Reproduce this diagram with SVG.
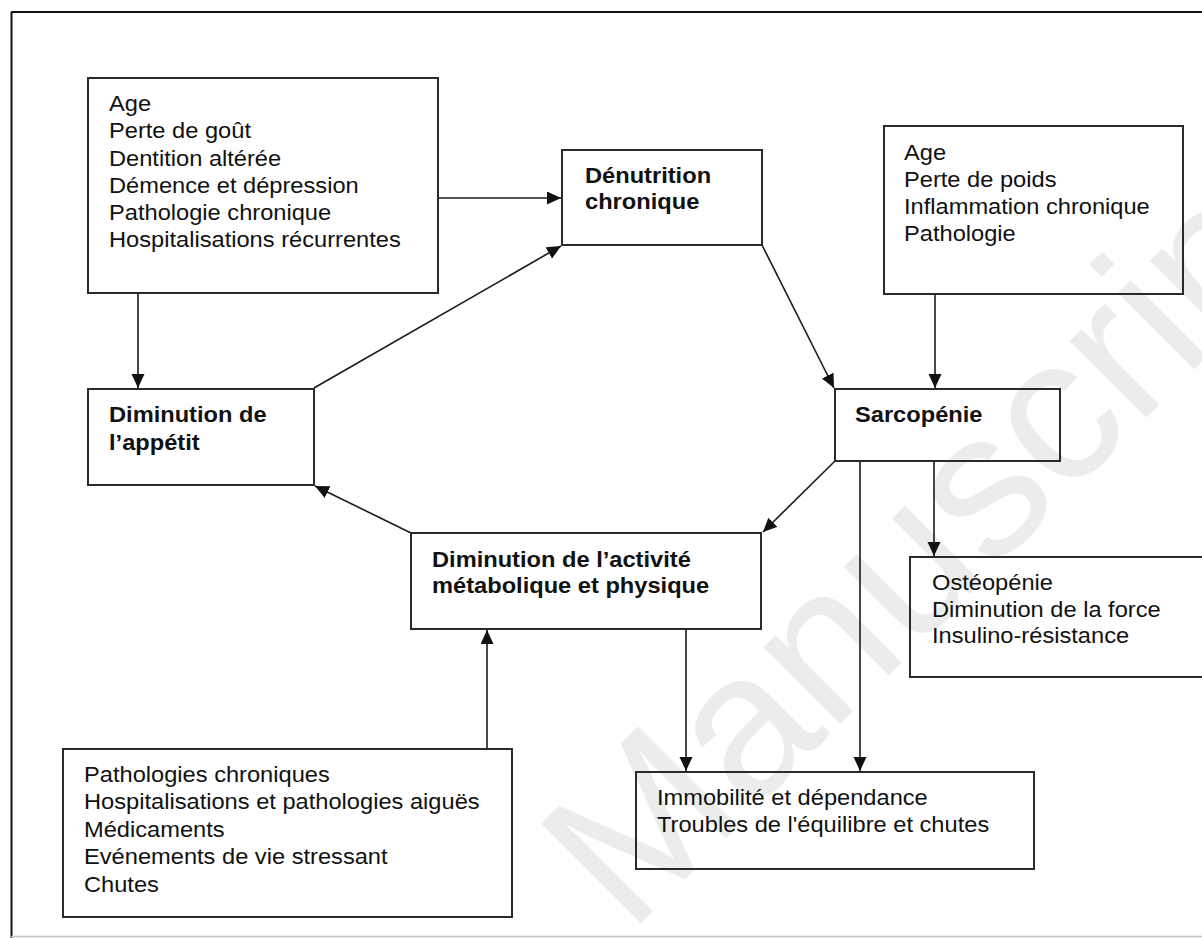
<svg xmlns="http://www.w3.org/2000/svg" width="1202" height="938" viewBox="0 0 1202 938">
<style>
.box{fill:none;stroke:#2a2a2a;stroke-width:2}
.t{font-family:"Liberation Sans",Arial,sans-serif;font-size:21.5px;fill:#111}
.b{font-weight:bold}
.c{stroke:#1a1a1a;stroke-width:1.6;fill:none}
.wm{font-family:"Liberation Sans",Arial,sans-serif;font-size:205px;fill:#ececec}
</style>
<defs>
<marker id="ah" markerUnits="userSpaceOnUse" markerWidth="15" markerHeight="14" refX="14" refY="6.5" orient="auto">
<path d="M0,0 L14,6.5 L0,13 z" fill="#111"/>
</marker>
</defs>
<rect width="1202" height="938" fill="#fff"/>
<g id="watermark">
<text class="wm" transform="translate(629,935) rotate(-45)">Manuscript</text>
</g>
<g id="frame">
<line x1="11.5" y1="12" x2="11.5" y2="938" stroke="#111" stroke-width="2"/>
<line x1="11" y1="12" x2="1202" y2="12" stroke="#111" stroke-width="2"/>
<line x1="11" y1="936.5" x2="1202" y2="936.5" stroke="#c4c4c4" stroke-width="1.5"/>
</g>
<g id="connectors">
<line class="c" x1="438" y1="198" x2="561" y2="198" marker-end="url(#ah)"/>
<line class="c" x1="314" y1="388" x2="561" y2="246" marker-end="url(#ah)"/>
<line class="c" x1="138" y1="293" x2="138" y2="388" marker-end="url(#ah)"/>
<line class="c" x1="762" y1="245" x2="834" y2="388" marker-end="url(#ah)"/>
<line class="c" x1="935" y1="294" x2="935" y2="388" marker-end="url(#ah)"/>
<line class="c" x1="835" y1="461" x2="763" y2="532" marker-end="url(#ah)"/>
<line class="c" x1="411" y1="533" x2="315" y2="486" marker-end="url(#ah)"/>
<line class="c" x1="934" y1="461" x2="934" y2="556" marker-end="url(#ah)"/>
<line class="c" x1="686" y1="629" x2="686" y2="771" marker-end="url(#ah)"/>
<line class="c" x1="860" y1="461" x2="860" y2="771" marker-end="url(#ah)"/>
<line class="c" x1="487" y1="749" x2="487" y2="630" marker-end="url(#ah)"/>
</g>
<g id="facteurs1">
<rect class="box" x="88" y="78" width="350" height="215"/>
<text class="t" transform="translate(109,111) scale(1.1,1)"><tspan x="0" y="0">Age</tspan><tspan x="0" y="27.3">Perte de goût</tspan><tspan x="0" y="54.6">Dentition altérée</tspan><tspan x="0" y="81.9">Démence et dépression</tspan><tspan x="0" y="109.2">Pathologie chronique</tspan><tspan x="0" y="136.5">Hospitalisations récurrentes</tspan></text>
</g>
<g id="denutrition">
<rect class="box" x="562" y="150" width="200" height="95"/>
<text class="t b" transform="translate(585,183) scale(1.1,1)"><tspan x="0" y="0">Dénutrition</tspan><tspan x="0" y="26">chronique</tspan></text>
</g>
<g id="facteurs2">
<rect class="box" x="884" y="126" width="299" height="168"/>
<text class="t" transform="translate(904,159.5) scale(1.1,1)"><tspan x="0" y="0">Age</tspan><tspan x="0" y="27.3">Perte de poids</tspan><tspan x="0" y="54.6">Inflammation chronique</tspan><tspan x="0" y="81.9">Pathologie</tspan></text>
</g>
<g id="appetit">
<rect class="box" x="88" y="389" width="226" height="96"/>
<text class="t b" transform="translate(109,422) scale(1.1,1)"><tspan x="0" y="0">Diminution de</tspan><tspan x="0" y="28">l’appétit</tspan></text>
</g>
<g id="sarcopenie">
<rect class="box" x="835" y="389" width="225" height="72"/>
<text class="t b" transform="translate(855,422) scale(1.1,1)">Sarcopénie</text>
</g>
<g id="activite">
<rect class="box" x="411" y="533" width="350" height="96"/>
<text class="t b" transform="translate(432,566.5) scale(1.1,1)"><tspan x="0" y="0">Diminution de l’activité</tspan><tspan x="0" y="27">métabolique et physique</tspan></text>
</g>
<g id="osteopenie">
<rect class="box" x="910" y="557" width="310" height="120"/>
<text class="t" transform="translate(932,590) scale(1.1,1)"><tspan x="0" y="0">Ostéopénie</tspan><tspan x="0" y="27">Diminution de la force</tspan><tspan x="0" y="53.5">Insulino-résistance</tspan></text>
</g>
<g id="immobilite">
<rect class="box" x="636" y="772" width="398" height="97"/>
<text class="t" transform="translate(657,805) scale(1.1,1)"><tspan x="0" y="0">Immobilité et dépendance</tspan><tspan x="0" y="27">Troubles de l'équilibre et chutes</tspan></text>
</g>
<g id="facteurs3">
<rect class="box" x="63" y="749" width="449" height="168"/>
<text class="t" transform="translate(84,782) scale(1.1,1)"><tspan x="0" y="0">Pathologies chroniques</tspan><tspan x="0" y="27.4">Hospitalisations et pathologies aiguës</tspan><tspan x="0" y="54.8">Médicaments</tspan><tspan x="0" y="82.2">Evénements de vie stressant</tspan><tspan x="0" y="109.6">Chutes</tspan></text>
</g>
</svg>
